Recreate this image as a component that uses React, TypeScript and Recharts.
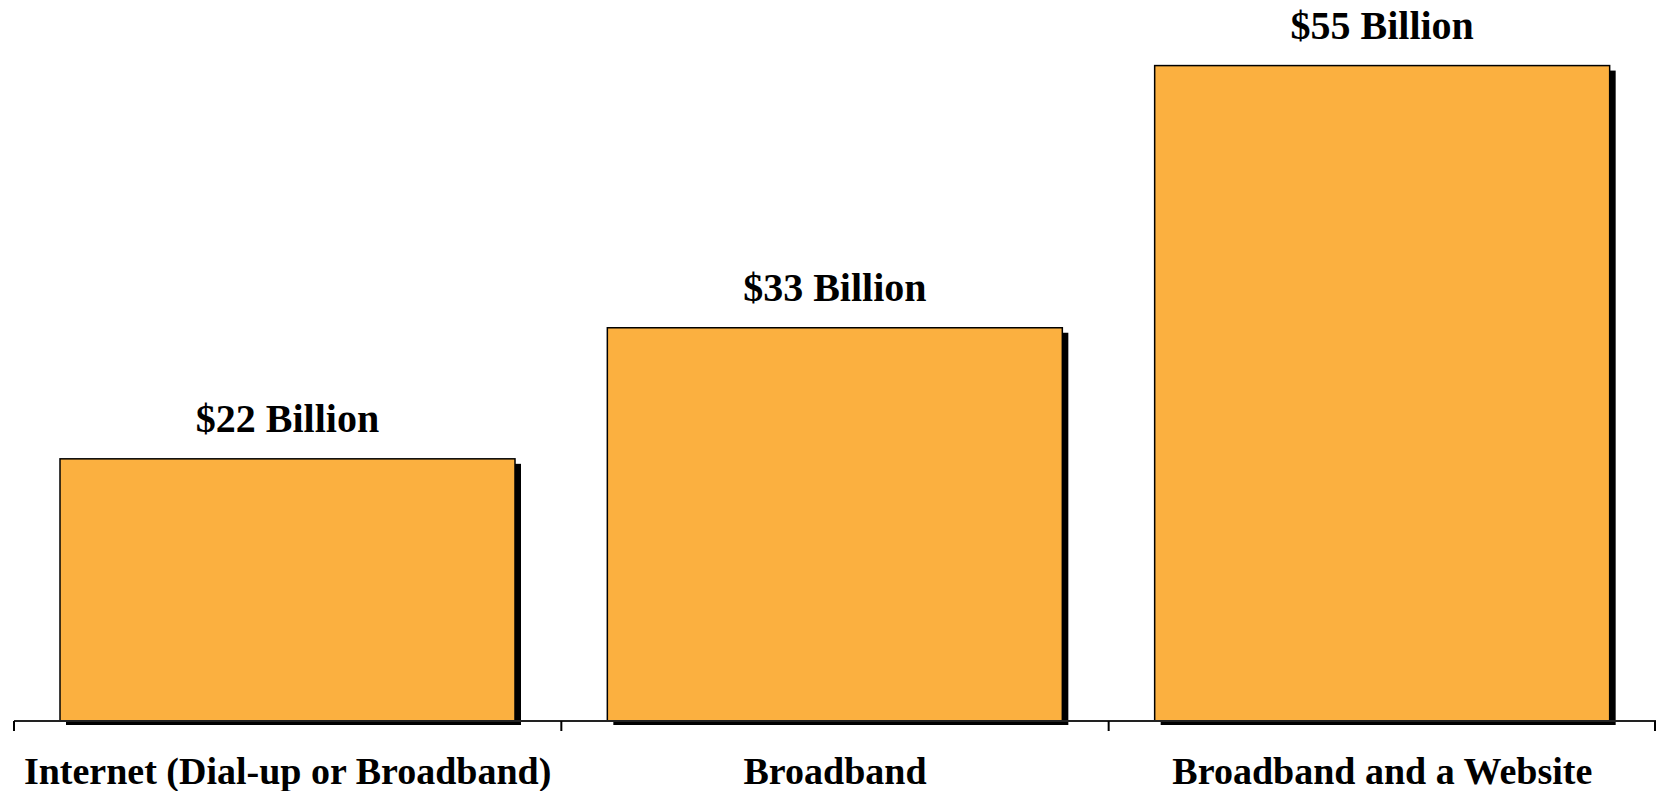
import React from "react"
import { Bar, BarChart, XAxis, YAxis, LabelList } from "recharts"

const categories = ["Internet (Dial-up or Broadband)", "Broadband", "Broadband and a Website"]
const values = [22, 33, 55]
const valueLabels = ["$22 Billion", "$33 Billion", "$55 Billion"]

const data = categories.map((name, i) => ({
  name,
  value: values[i],
  label: valueLabels[i],
}))

const FONT = "'Liberation Serif', 'Times New Roman', serif"

// bar with a black drop shadow down and to the right
const ShadowBar = (props: any) => {
  const { x, y, width, height } = props
  return (
    <g>
      <rect x={x + 6} y={y + 5} width={width} height={height - 1} fill="#000" />
      <rect x={x} y={y} width={width} height={height} fill="#FBB040" stroke="#000" strokeWidth={1.5} />
    </g>
  )
}

// category label, plus tick marks on the category boundaries
const CategoryTick = (props: any) => {
  const { x, y, payload, index, visibleTicksCount } = props
  const half = payload.offset || 0
  const last = index === visibleTicksCount - 1
  return (
    <g>
      <line x1={x - half} x2={x - half} y1={y} y2={y + 10} stroke="#000" strokeWidth={2} />
      {last && <line x1={x + half - 1} x2={x + half - 1} y1={y} y2={y + 10} stroke="#000" strokeWidth={2} />}
      <text
        x={x}
        y={y + 63}
        textAnchor="middle"
        fill="#000"
        fontFamily={FONT}
        fontWeight="bold"
        fontSize={38}
      >
        {payload.value}
      </text>
    </g>
  )
}

export default function App() {
  return (
    <div style={{ position: "absolute", left: 0, top: 0, background: "#fff" }}>
      <BarChart
        width={1656}
        height={791}
        data={data}
        margin={{ top: 6, right: 0, bottom: 0, left: 14 }}
        barCategoryGap={46}
      >
        <XAxis
          dataKey="name"
          height={70}
          axisLine={{ stroke: "#222", strokeWidth: 2 }}
          tickLine={false}
          tickSize={0}
          tickMargin={0}
          interval={0}
          tick={<CategoryTick />}
        />
        <YAxis hide domain={[0, 60]} />
        <Bar dataKey="value" shape={<ShadowBar />} isAnimationActive={false}>
          <LabelList
            dataKey="label"
            position="top"
            offset={27}
            fill="#000"
            fontFamily={FONT}
            fontWeight="bold"
            fontSize={40}
          />
        </Bar>
      </BarChart>
    </div>
  )
}
